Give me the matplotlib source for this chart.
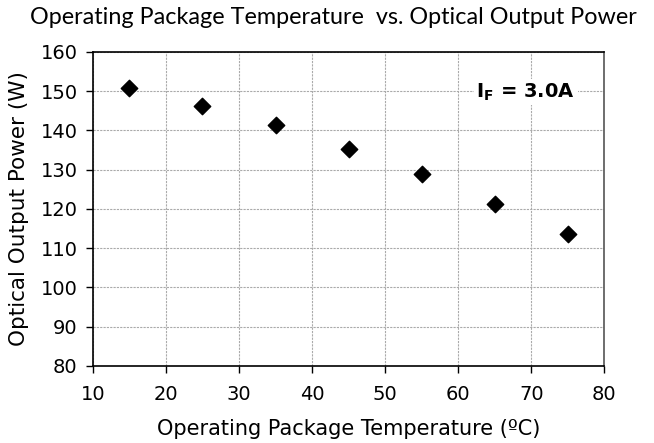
import matplotlib.pyplot as plt

plt.rcParams['font.family'] = 'DejaVu Sans'
plt.rcParams['mathtext.fontset'] = 'dejavusans'

# data
temperature = [15, 25, 35, 45, 55, 65, 75]
optical_power = [150.8, 146.3, 141.3, 135.3, 128.8, 121.3, 113.7]

fig = plt.figure(figsize=(6.54, 4.43), dpi=100)
ax = fig.add_axes([0.142, 0.174, 0.782, 0.709])

ax.scatter(temperature, optical_power, marker='D', s=70, color='black', zorder=3)

ax.set_xlim(10, 80)
ax.set_ylim(80, 160)
ax.set_xticks(range(10, 81, 10))
ax.set_yticks(range(80, 161, 10))
ax.grid(True, color='#aaaaaa', linestyle=(0, (2, 1)), linewidth=0.8)
ax.tick_params(direction='out', length=5, labelsize=14, width=1)
ax.tick_params(axis='x', pad=9)
ax.tick_params(axis='y', pad=6)

for side in ['left', 'bottom', 'top']:
    ax.spines[side].set_color('black')
    ax.spines[side].set_linewidth(1.2)
ax.spines['right'].set_color('#555555')
ax.spines['right'].set_linewidth(1.2)

ax.set_xlabel('Operating Package Temperature (ºC)', fontsize=15)
ax.set_ylabel('Optical Output Power (W)', fontsize=15.5)
ax.xaxis.set_label_coords(0.5, -0.17)
ax.yaxis.set_label_coords(-0.125, 0.5)
fig.text(0.51, 0.96, 'Operating Package Temperature  vs. Optical Output Power',
         ha='center', va='center', fontsize=16.8, family='Lato')

ax.text(0.943, 0.872, r'$\mathbf{I_F}$ = 3.0A', transform=ax.transAxes,
        ha='right', va='center', fontsize=14, fontweight='bold',
        bbox=dict(facecolor='white', edgecolor='none', pad=2))

fig.savefig('out.png', dpi=100)
